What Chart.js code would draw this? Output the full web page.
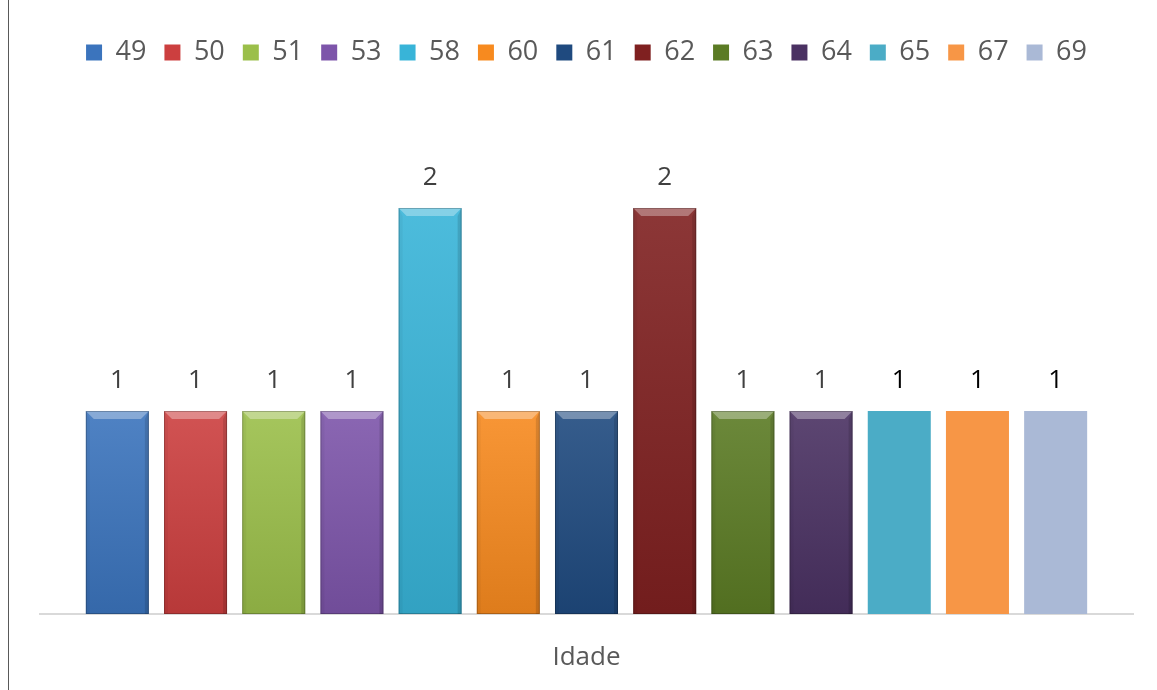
<!DOCTYPE html>
<html>
<head>
<meta charset="utf-8">
<script src="https://cdn.jsdelivr.net/npm/chart.js@4/dist/chart.umd.min.js"></script>
<style>
  html, body { margin: 0; padding: 0; background: #fff; }
  #wrap { position: relative; width: 1157px; height: 690px; }
  #edge { position: absolute; left: 8px; top: 0; width: 1px; height: 690px; background: #595959; }
</style>
</head>
<body>
<div id="wrap">
  <div id="edge"></div>
  <canvas id="chart" width="1157" height="690"></canvas>
</div>
<script>
const categories = ["Idade"];
const ages = ["49", "50", "51", "53", "58", "60", "61", "62", "63", "64", "65", "67", "69"];
const counts = [1, 1, 1, 1, 2, 1, 1, 2, 1, 1, 1, 1, 1];
const colors = ["#3b74bd", "#cc3f3f", "#9bbf4a", "#7d55aa", "#38b4d8", "#f78a1f",
                "#1f4a7f", "#7f2020", "#5b7b24", "#4a3162", "#4bacc6", "#f79646", "#aab9d6"];
const bevelled = [true, true, true, true, true, true, true, true, true, true, false, false, false];

const font = "'Open Sans', 'Liberation Sans', sans-serif";

// light top edge, darker sides and a soft vertical shade, like the office bevel
const bevelPlugin = {
  id: "bevel",
  afterDatasetDraw(chart, args) {
    const i = args.index;
    if (!bevelled[i]) return;
    const ctx = chart.ctx;
    args.meta.data.forEach(bar => {
      const l = bar.x - bar.width / 2, r = bar.x + bar.width / 2;
      const t = bar.y, b = bar.base;
      const e = 8;
      ctx.save();
      const g = ctx.createLinearGradient(0, t, 0, b);
      g.addColorStop(0, "rgba(255,255,255,0.10)");
      g.addColorStop(1, "rgba(0,0,0,0.10)");
      ctx.fillStyle = g;
      ctx.fillRect(l, t, r - l, b - t);
      // top bevel
      ctx.fillStyle = "rgba(255,255,255,0.32)";
      ctx.beginPath();
      ctx.moveTo(l, t); ctx.lineTo(r, t); ctx.lineTo(r - e, t + e); ctx.lineTo(l + e, t + e);
      ctx.closePath(); ctx.fill();
      // left side
      ctx.fillStyle = "rgba(0,0,0,0.04)";
      ctx.beginPath();
      ctx.moveTo(l, t); ctx.lineTo(l + 4, t + e); ctx.lineTo(l + 4, b); ctx.lineTo(l, b);
      ctx.closePath(); ctx.fill();
      // right side
      ctx.fillStyle = "rgba(0,0,0,0.12)";
      ctx.beginPath();
      ctx.moveTo(r, t); ctx.lineTo(r - 4, t + e); ctx.lineTo(r - 4, b); ctx.lineTo(r, b);
      ctx.closePath(); ctx.fill();
      ctx.strokeStyle = "rgba(0,0,0,0.22)";
      ctx.lineWidth = 1;
      ctx.strokeRect(l + 0.5, t + 0.5, r - l - 1, b - t - 1);
      ctx.restore();
    });
  }
};

const valueLabels = {
  id: "valueLabels",
  afterDatasetsDraw(chart) {
    const ctx = chart.ctx;
    ctx.save();
    ctx.font = "26px " + font;
    ctx.textAlign = "center";
    ctx.textBaseline = "middle";
    chart.data.datasets.forEach((ds, i) => {
      const meta = chart.getDatasetMeta(i);
      meta.data.forEach((bar, j) => {
        ctx.fillStyle = bevelled[i] ? "#404040" : "#000000";
        ctx.fillText(String(ds.data[j]), bar.x, bar.y - 30);
      });
    });
    ctx.restore();
  }
};

new Chart(document.getElementById("chart"), {
  type: "bar",
  data: {
    labels: categories,
    datasets: ages.map((a, i) => ({
      label: a,
      data: [counts[i]],
      backgroundColor: colors[i],
      borderWidth: 0,
      categoryPercentage: 0.93,
      barPercentage: 0.806
    }))
  },
  options: {
    responsive: false,
    animation: false,
    layout: { padding: { left: 40, right: 24, top: 21, bottom: 0 } },
    plugins: {
      legend: {
        position: "top",
        labels: {
          font: { family: font, size: 27 },
          color: "#595959",
          boxWidth: 16,
          boxHeight: 16,
          padding: 18
        }
      },
      tooltip: { enabled: false }
    },
    scales: {
      x: {
        grid: { display: false, drawTicks: false },
        border: { display: true, color: "#d9d9d9", width: 2 },
        ticks: { font: { family: font, size: 26 }, color: "#595959", padding: 28 },
        afterFit(scale) { scale.height = 76; }
      },
      y: {
        display: false,
        min: 0,
        max: 2.65
      }
    }
  },
  plugins: [bevelPlugin, valueLabels]
});
</script>
</body>
</html>
